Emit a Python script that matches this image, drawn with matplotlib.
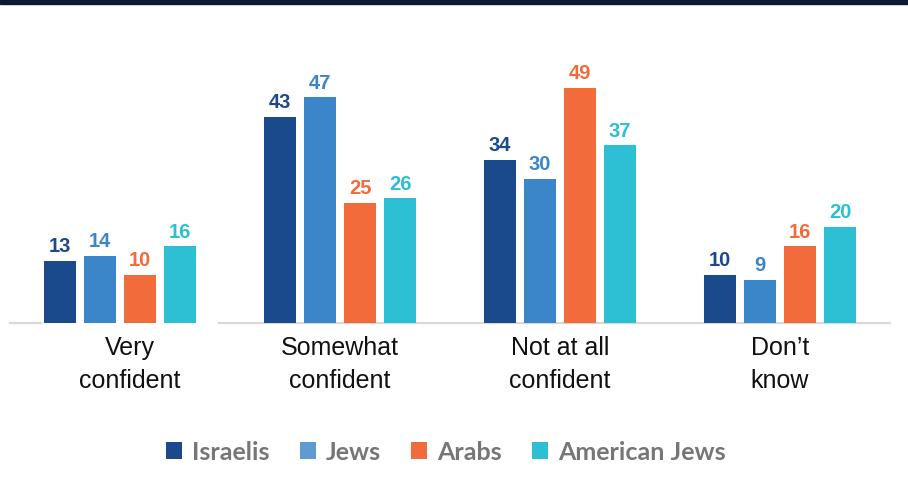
import matplotlib.pyplot as plt
import matplotlib.transforms as mtransforms
from matplotlib.patches import Rectangle, Patch
import numpy as np

categories = ["Very\nconfident", "Somewhat\nconfident", "Not at all\nconfident", "Don\u2019t\nknow"]
series = ["Israelis", "Jews", "Arabs", "American Jews"]
israelis = [13, 43, 34, 10]
jews = [14, 47, 30, 9]
arabs = [10, 25, 49, 16]
american_jews = [16, 26, 37, 20]

bar_colors = ["#1a4a8c", "#3a86c8", "#f26b3a", "#2dbfd4"]
legend_colors = ["#1a4a8c", "#5f9bd0", "#f26b3a", "#2dbfd4"]

plt.rcParams["font.family"] = ["Liberation Sans", "DejaVu Sans"]

fig = plt.figure(figsize=(9.08, 5.02), dpi=100)
W, H = 908, 502
ax = fig.add_axes([10 / W, (H - 324) / H, 880 / W, 264 / H])

# thin navy strip across the top
fig.patches.append(Rectangle((0, 1 - 5 / H), 1, 5 / H, transform=fig.transFigure,
                             color="#0a1a35", zorder=0))

x = np.arange(len(categories))
width = 32 / 220
pitch = 40 / 220
values = [israelis, jews, arabs, american_jews]
for i, (vals, color) in enumerate(zip(values, bar_colors)):
    pos = x + (i - 1.5) * pitch
    ax.bar(pos, vals, width=width, color=color, zorder=3)
    for px, v in zip(pos, vals):
        ax.annotate(str(v), (px, v), xytext=(0, 4), textcoords="offset points",
                    ha="center", va="bottom", color=color, fontsize=14.5,
                    fontweight="bold")

# baseline
ax.plot([-0.5, -0.36], [0, 0], color="#d9d9d9", lw=1.6, zorder=2, clip_on=False)
ax.plot([0.45, 3.5], [0, 0], color="#d9d9d9", lw=1.6, zorder=2, clip_on=False)

ax.set_xlim(-0.5, 3.5)
ax.set_ylim(0, 55)
ax.set_xticks(x)
ax.set_xticklabels(categories, fontsize=18, linespacing=1.45, color="#111111")
ax.tick_params(axis="x", length=0, pad=9)
ax.set_yticks([])
for s in ax.spines.values():
    s.set_visible(False)

# first category label sits a little to the right
lbl = ax.get_xticklabels()[0]
lbl.set_transform(lbl.get_transform() + mtransforms.ScaledTranslation(0.1, 0, fig.dpi_scale_trans))

handles = [Patch(facecolor=c, edgecolor="none") for c in legend_colors]
fig.legend(handles, series, loc="center", bbox_to_anchor=(446 / W, 1 - 453 / H),
           ncol=4, frameon=False, handlelength=0.65, handleheight=0.65,
           handletextpad=0.4, columnspacing=1.2,
           prop={"family": "Lato", "weight": "bold", "size": 18},
           labelcolor="#767676")

fig.savefig("out.png", dpi=100)
